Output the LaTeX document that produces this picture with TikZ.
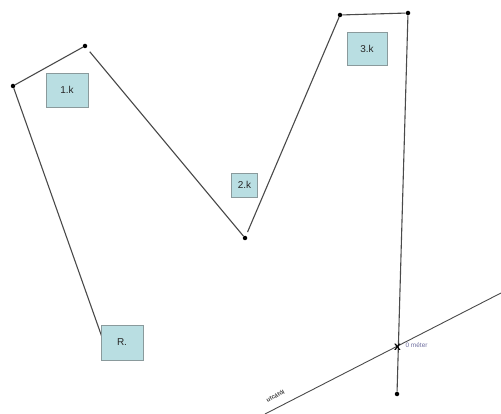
\documentclass[tikz,border=0pt]{standalone}
\usepackage{fontspec}
\setmainfont{Liberation Sans}
\definecolor{boxfill}{HTML}{B9DEE2}
\definecolor{boxdraw}{HTML}{8A9A9C}
\definecolor{linec}{HTML}{4A4A4A}
\definecolor{labc}{HTML}{7070A0}
\begin{document}
\begin{tikzpicture}[x=1pt,y=-1pt,
  lbox/.style={draw=boxdraw, fill=boxfill, line width=0.9pt, inner sep=0pt, text=black!85, font=\fontsize{10}{11}\selectfont},
  conn/.style={draw=linec, line width=1.1pt},
  pdot/.style={circle, fill=black, inner sep=0pt, minimum size=4.5pt}]
\useasboundingbox (0,0) rectangle (501,414);
% points
\coordinate (r0) at (103,340);
\node[pdot] (p1) at (13,86) {};
\node[pdot] (p2) at (85,46) {};
\node[pdot] (p3) at (245,238) {};
\node[pdot] (p4) at (340,15) {};
\node[pdot] (p5) at (408,13) {};
\node[pdot] (p6) at (397,394) {};
\coordinate (s0) at (265,414);
\coordinate (s1) at (501,293);
% path
\draw[conn] (r0) -- (p1);
\draw[conn] (p1) -- (p2);
\draw[conn, shorten <=5pt] (p2) -- (p3);
\draw[conn, shorten <=4pt] (p3) -- (p4);
\draw[conn] (p4) -- (p5);
\draw[conn] (p5) -- (p6);
\draw[conn, line width=0.9pt] (s0) -- (s1);
% labels along street
\node[font=\bfseries\fontsize{6}{6}\selectfont, text=black!75, rotate=27, anchor=south] (utca) at (278,401) {utcától};
\node[font=\bfseries\fontsize{12}{12}\selectfont] (xm) at (397.5,347.5) {x};
\node[font=\fontsize{6.5}{7}\selectfont, text=labc, anchor=west] (nm) at (402,345) {0 méter};
% boxes
\node[lbox, minimum width=42pt, minimum height=34pt] (k1) at (67,90) {1.k};
\node[lbox, minimum width=26pt, minimum height=24pt] (k2) at (244.5,185) {2.k};
\node[lbox, minimum width=40pt, minimum height=33pt] (k3) at (367,48.5) {3.k};
\node[lbox, minimum width=42pt, minimum height=35pt] (kr) at (122,342.5) {R.};
\end{tikzpicture}
\end{document}
